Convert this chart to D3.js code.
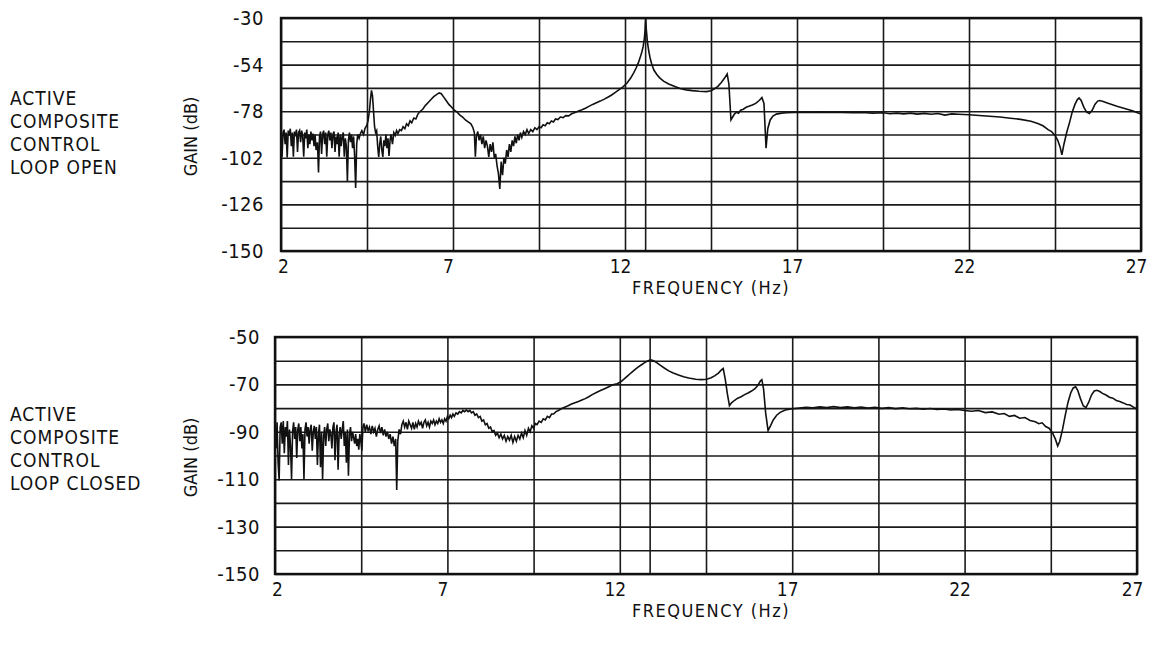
<!DOCTYPE html>
<html>
<head>
<meta charset="utf-8">
<script src="https://cdn.jsdelivr.net/npm/d3@7"></script>
<style>
  body { margin: 0; background: #fff; }
  text { font-family: "DejaVu Sans Condensed", "DejaVu Sans", sans-serif; font-stretch: condensed; fill: #111; }
</style>
</head>
<body>
<svg id="chart" width="1151" height="647"></svg>
<script>
// frequency axis (Hz)
const freqTicks = [2, 7, 12, 17, 22, 27];
const freqGrid = [2, 4.5, 7, 9.5, 12, 14.5, 17, 19.5, 22, 24.5, 27];

// gain axes (dB)
const openTicks = [-150, -126, -102, -78, -54, -30];
const openGrid = [-150, -138, -126, -114, -102, -90, -78, -66, -54, -42, -30];
const closedTicks = [-150, -130, -110, -90, -70, -50];
const closedGrid = [-150, -140, -130, -120, -110, -100, -90, -80, -70, -60, -50];

const openCaption = ["ACTIVE", "COMPOSITE", "CONTROL", "LOOP OPEN"];
const closedCaption = ["ACTIVE", "COMPOSITE", "CONTROL", "LOOP CLOSED"];

// resonance marker lines
const openMarker = 12.6;
const closedMarker = 12.88;

// [frequency Hz, gain dB], loop open
const openLoop = [
  [2.00,-90],[2.03,-101.5],[2.06,-89],[2.09,-87.5],[2.12,-95],[2.15,-89],[2.18,-101.8],[2.21,-88],
  [2.24,-90.5],[2.27,-87],[2.30,-96],[2.33,-89],[2.36,-101.5],[2.39,-88.5],[2.42,-91],[2.45,-87.5],
  [2.48,-99],[2.51,-89],[2.54,-88],[2.57,-94],[2.60,-88],[2.63,-90.5],[2.66,-101.5],[2.69,-89],
  [2.72,-92],[2.75,-87.5],[2.78,-97],[2.81,-90],[2.84,-95],[2.87,-88.5],[2.90,-93],[2.93,-89.5],
  [2.96,-96],[2.99,-90],[3.02,-98],[3.06,-94],[3.09,-109.5],[3.12,-91],[3.15,-88.5],[3.18,-100],
  [3.21,-90],[3.24,-88],[3.27,-95],[3.30,-89],[3.33,-101.5],[3.36,-90],[3.39,-88],[3.42,-93],
  [3.45,-89],[3.48,-97],[3.51,-90],[3.54,-88.5],[3.57,-99],[3.60,-91],[3.63,-95],[3.66,-89],
  [3.69,-101.5],[3.72,-90],[3.75,-96],[3.78,-91],[3.81,-89],[3.84,-101.5],[3.87,-92],[3.90,-96],
  [3.93,-114],[3.96,-93],[3.99,-89],[4.02,-94],[4.05,-90],[4.08,-97],[4.11,-91],[4.14,-101],
  [4.17,-117.5],[4.20,-95],[4.23,-90],[4.27,-92],[4.31,-89.5],[4.35,-88],[4.40,-90],[4.44,-87],
  [4.49,-85.5],[4.53,-83],[4.57,-78],[4.60,-72],[4.63,-67.3],[4.66,-70],[4.69,-78],[4.72,-86],
  [4.75,-89],[4.78,-88],[4.81,-96],[4.84,-101.5],[4.87,-95],[4.90,-91],[4.93,-98],[4.96,-101.5],
  [4.99,-93],[5.02,-96],[5.05,-90],[5.08,-97],[5.11,-92],[5.14,-101],[5.17,-93],[5.20,-90],
  [5.24,-95],[5.28,-89],[5.32,-90.5],[5.36,-88],[5.40,-89.5],[5.45,-87.5],[5.50,-88],[5.55,-86],
  [5.60,-87],[5.65,-84.5],[5.70,-85.5],[5.75,-83],[5.80,-84],[5.86,-81.5],[5.92,-82],[5.98,-79.5],
  [6.05,-78],[6.12,-77],[6.20,-75],[6.28,-73.5],[6.36,-72],[6.44,-70.5],[6.52,-69.5],[6.60,-68.6],
  [6.66,-69],[6.72,-70.5],[6.80,-72.5],[6.88,-74.5],[6.96,-76],[7.04,-77.5],[7.12,-78.5],[7.20,-80],
  [7.28,-81],[7.36,-82.5],[7.44,-83.5],[7.52,-84.5],[7.58,-86.5],[7.62,-89],[7.65,-101.5],[7.68,-91],
  [7.72,-88.5],[7.76,-93],[7.80,-90],[7.84,-95],[7.88,-91],[7.92,-97],[7.96,-93],[8.00,-96],
  [8.04,-101.5],[8.08,-95],[8.12,-99],[8.16,-94],[8.20,-102],[8.24,-100],[8.28,-106],[8.32,-110],
  [8.36,-118],[8.40,-104],[8.44,-111],[8.48,-102],[8.52,-105],[8.56,-98],[8.60,-101.5],[8.64,-95],
  [8.68,-99],[8.72,-93],[8.76,-96],[8.80,-91],[8.84,-94.5],[8.88,-90],[8.92,-93],[8.96,-89],
  [9.00,-91.5],[9.05,-88.5],[9.10,-90],[9.15,-87.5],[9.20,-89.5],[9.26,-87.5],[9.32,-88.5],[9.38,-86.5],
  [9.44,-87.5],[9.50,-86],[9.56,-86.5],[9.62,-85],[9.68,-85.5],[9.74,-84],[9.80,-84.5],[9.86,-83],
  [9.92,-83.5],[9.98,-82],[10.05,-82.3],[10.12,-81],[10.20,-81.3],[10.28,-80.3],[10.36,-80.4],[10.45,-79.3],
  [10.55,-78.7],[10.65,-77.9],[10.75,-77.3],[10.85,-76.5],[10.95,-75.5],[11.06,-74.5],[11.17,-73.6],
  [11.28,-72.8],[11.40,-71.8],[11.50,-70.8],[11.60,-69.8],[11.72,-68.3],[11.84,-66.8],[11.95,-65.3],
  [12.06,-63.5],[12.17,-60.8],[12.26,-58],[12.33,-55.5],[12.39,-53],[12.44,-50.4],[12.49,-47.5],
  [12.53,-44.5],[12.56,-41],[12.58,-37],[12.60,-30],[12.62,-36],[12.65,-42],[12.69,-47],[12.73,-50.6],
  [12.78,-54],[12.84,-56.8],[12.92,-59],[13.00,-60.7],[13.12,-62.5],[13.27,-64],[13.45,-65.3],
  [13.60,-66.3],[13.78,-67],[13.95,-67.4],[14.15,-67.7],[14.37,-67.9],[14.50,-67.5],[14.60,-66.5],
  [14.70,-65.2],[14.80,-63.2],[14.90,-60.8],[14.97,-58.8],[15.02,-64],[15.08,-82.5],[15.13,-81],
  [15.18,-79.5],[15.24,-78.5],[15.30,-79],[15.36,-77.5],[15.44,-77],[15.52,-76],[15.60,-75.5],
  [15.70,-74.8],[15.80,-74],[15.90,-72.5],[15.98,-71],[16.04,-74],[16.10,-97],[16.15,-87],
  [16.22,-82.5],[16.30,-80.5],[16.40,-79.5],[16.55,-79],[16.70,-78.8],[16.90,-78.6],[17.10,-78.5],
  [17.40,-78.6],[17.70,-78.5],[18.00,-78.7],[18.30,-78.6],[18.60,-78.8],[18.90,-78.7],[19.20,-79],
  [19.50,-78.8],[19.70,-79.3],[19.90,-79],[20.10,-79.4],[20.30,-79],[20.50,-79.5],[20.70,-79.1],
  [20.90,-79.6],[21.10,-79.2],[21.30,-80],[21.50,-79.4],[21.70,-79.6],[22.00,-79.8],[22.30,-80.2],
  [22.60,-80.6],[22.90,-81],[23.20,-81.6],[23.50,-82.2],[23.80,-83.2],[24.00,-84.3],[24.15,-85.5],
  [24.30,-87.5],[24.40,-88.5],[24.50,-90.5],[24.58,-93],[24.65,-96.5],[24.70,-100.5],[24.76,-95],
  [24.84,-89],[24.92,-84],[25.00,-78.5],[25.08,-74.5],[25.15,-72],[25.20,-71.2],[25.26,-72.5],
  [25.34,-76],[25.42,-78.5],[25.50,-79.2],[25.58,-77.5],[25.66,-74.5],[25.74,-72.8],[25.80,-72.5],
  [25.90,-73],[26.00,-73.6],[26.15,-74.5],[26.30,-75.4],[26.45,-76.2],[26.60,-77],[26.75,-77.8],
  [26.90,-78.8],[27.00,-79.5]
];

// [frequency Hz, gain dB], loop closed
const closedLoop = [
  [2.00,-87],[2.03,-97],[2.06,-86],[2.09,-103],[2.12,-110.5],[2.15,-88],[2.18,-86],[2.21,-95],
  [2.24,-85.5],[2.27,-99],[2.30,-88],[2.33,-92],[2.36,-85.5],[2.39,-104],[2.42,-89],[2.45,-96],
  [2.48,-110],[2.51,-90],[2.54,-86],[2.57,-93],[2.60,-88],[2.63,-101],[2.66,-89],[2.69,-86.5],
  [2.72,-94],[2.75,-88],[2.78,-97],[2.81,-91],[2.84,-110],[2.87,-89],[2.90,-86],[2.93,-92],
  [2.96,-88],[2.99,-95],[3.02,-89],[3.05,-87],[3.08,-98],[3.11,-90],[3.14,-87.5],[3.17,-93],
  [3.20,-88],[3.23,-104],[3.26,-91],[3.29,-87],[3.32,-105],[3.35,-90],[3.38,-110],[3.41,-92],
  [3.44,-88],[3.47,-96],[3.50,-89],[3.53,-86.5],[3.56,-94],[3.59,-89],[3.62,-91],[3.65,-97],
  [3.68,-88],[3.71,-86],[3.74,-102],[3.77,-90],[3.80,-87],[3.83,-106],[3.86,-91],[3.89,-88],
  [3.92,-93],[3.95,-89],[3.98,-85.5],[4.01,-96],[4.04,-90],[4.07,-103],[4.10,-89],[4.13,-108.5],
  [4.16,-91],[4.19,-88],[4.22,-94],[4.25,-90],[4.28,-92.5],[4.31,-95],[4.34,-91],[4.37,-96],
  [4.40,-93],[4.43,-97.5],[4.46,-91],[4.49,-94],[4.52,-98],[4.55,-88],[4.58,-86.5],[4.62,-90],
  [4.66,-87],[4.70,-89.5],[4.74,-88],[4.78,-91],[4.82,-87.5],[4.86,-90],[4.90,-88.5],[4.94,-92],
  [4.98,-89],[5.02,-87.5],[5.06,-90.5],[5.10,-88],[5.14,-91.5],[5.18,-89],[5.22,-92],[5.26,-90],
  [5.30,-93],[5.34,-91],[5.38,-95],[5.42,-92],[5.46,-96],[5.50,-93],[5.53,-114.5],[5.56,-94],
  [5.60,-89],[5.64,-91],[5.68,-87],[5.72,-85.5],[5.76,-88],[5.80,-86],[5.84,-89],[5.88,-85.5],
  [5.92,-87],[5.96,-88.5],[6.00,-86],[6.04,-89],[6.08,-86.5],[6.12,-88],[6.16,-85.5],[6.20,-87],
  [6.24,-86],[6.28,-88.5],[6.32,-86],[6.36,-85],[6.40,-87.5],[6.44,-86],[6.48,-88],[6.52,-85.5],
  [6.56,-86.5],[6.60,-85],[6.64,-87],[6.68,-85.5],[6.72,-86.5],[6.76,-84.5],[6.80,-86],[6.84,-85],
  [6.88,-86.5],[6.92,-84.5],[6.96,-85.5],[7.00,-83.5],[7.04,-84.5],[7.08,-83],[7.12,-84],[7.16,-82.5],
  [7.20,-83.5],[7.25,-82],[7.30,-82.5],[7.35,-81.5],[7.40,-82],[7.45,-81],[7.50,-81.5],[7.55,-80.8],
  [7.60,-81.5],[7.65,-81],[7.70,-82],[7.75,-81.5],[7.80,-83],[7.85,-82.5],[7.90,-84],[7.95,-83.5],
  [8.00,-85.5],[8.05,-85],[8.10,-87],[8.15,-86.5],[8.20,-88.5],[8.25,-88],[8.30,-90],[8.35,-89.5],
  [8.40,-91.5],[8.45,-90.5],[8.50,-92.5],[8.55,-91],[8.60,-93],[8.65,-91.5],[8.70,-94],[8.75,-92],
  [8.80,-93.5],[8.85,-91.5],[8.90,-94.5],[8.95,-92],[9.00,-94],[9.05,-91.5],[9.10,-93],[9.15,-90.5],
  [9.20,-92.5],[9.25,-89.5],[9.30,-91.5],[9.35,-88.5],[9.40,-90],[9.45,-87.5],[9.50,-88.5],[9.55,-86.5],
  [9.60,-87],[9.66,-85.5],[9.72,-86],[9.78,-84.5],[9.84,-85],[9.90,-83.5],[9.96,-84],[10.02,-82.5],
  [10.08,-82.5],[10.15,-81.5],[10.22,-81],[10.30,-80.3],[10.40,-79.6],[10.50,-79],[10.60,-78.3],
  [10.70,-77.7],[10.80,-77.2],[10.90,-76.6],[11.00,-76],[11.10,-75.2],[11.20,-74.3],[11.32,-73.4],
  [11.44,-72.6],[11.56,-71.8],[11.68,-71],[11.80,-70.2],[11.92,-69.7],[12.02,-69],[12.12,-67.8],
  [12.22,-66.5],[12.32,-65.2],[12.42,-64],[12.52,-62.8],[12.62,-61.8],[12.72,-60.8],[12.82,-60],
  [12.90,-59.6],[12.98,-60],[13.07,-60.8],[13.18,-62],[13.30,-63.2],[13.42,-64.3],[13.55,-65.2],
  [13.70,-66],[13.85,-66.8],[14.00,-67.3],[14.20,-67.8],[14.37,-68],[14.52,-67.8],[14.65,-67.2],
  [14.76,-66.3],[14.86,-65.2],[14.94,-64],[15.00,-63.3],[15.06,-68],[15.12,-74],[15.18,-79],
  [15.24,-77.8],[15.32,-76.8],[15.42,-75.8],[15.52,-75.2],[15.62,-74.3],[15.72,-73.6],[15.82,-72.8],
  [15.92,-71.8],[16.00,-70.5],[16.08,-68.5],[16.12,-68],[16.17,-72],[16.23,-82],[16.30,-89.5],
  [16.37,-87.5],[16.45,-85],[16.55,-83],[16.65,-81.8],[16.80,-80.8],[17.00,-80.3],[17.20,-80],
  [17.40,-79.7],[17.60,-79.9],[17.80,-79.5],[18.00,-79.8],[18.20,-79.4],[18.40,-79.8],[18.60,-79.5],
  [18.80,-79.9],[19.00,-79.6],[19.20,-80],[19.40,-79.7],[19.60,-80.1],[19.80,-79.8],[20.00,-80.2],
  [20.20,-79.9],[20.40,-80.3],[20.60,-80.1],[20.80,-80.5],[21.00,-80.2],[21.20,-80.6],[21.40,-80.4],
  [21.60,-80.8],[21.80,-80.6],[22.00,-81],[22.20,-81.3],[22.40,-81],[22.60,-81.9],[22.80,-81.6],
  [23.00,-82.6],[23.15,-82.3],[23.30,-83.5],[23.45,-83.1],[23.60,-84.3],[23.75,-84],[23.90,-85.2],
  [24.05,-85.8],[24.15,-86.6],[24.25,-86.2],[24.35,-87.8],[24.45,-88.5],[24.55,-90.5],[24.63,-93],
  [24.70,-96],[24.76,-94],[24.84,-89],[24.92,-83],[25.00,-77.5],[25.08,-73.5],[25.15,-71.5],
  [25.22,-71],[25.28,-72.5],[25.36,-76],[25.44,-79],[25.52,-79.8],[25.60,-77.5],[25.68,-74.5],
  [25.76,-72.8],[25.84,-72.5],[25.92,-73],[26.00,-73.8],[26.10,-74.5],[26.20,-75.4],[26.30,-75.8],
  [26.40,-76.8],[26.50,-77.2],[26.60,-77.8],[26.70,-78.5],[26.80,-78.7],[26.90,-79.6],[27.00,-80.5]
];

const svg = d3.select("#chart");

const panels = [
  { id: "open", data: openLoop, marker: openMarker, ticks: openTicks, grid: openGrid,
    caption: openCaption, left: 281, right: 1141, top: 18, bottom: 251,
    captionY: 105, yPad: 17, titleShift: 0 },
  { id: "closed", data: closedLoop, marker: closedMarker, ticks: closedTicks, grid: closedGrid,
    caption: closedCaption, left: 275, right: 1137, top: 337, bottom: 574,
    captionY: 421, yPad: 15, titleShift: 5 }
];

panels.forEach(drawPanel);

function drawPanel(p) {
  const x = d3.scaleLinear().domain([2, 27]).range([p.left, p.right]);
  const y = d3.scaleLinear().domain([d3.min(p.grid), d3.max(p.grid)]).range([p.bottom, p.top]);
  const g = svg.append("g").attr("class", "panel-" + p.id);

  // vertical grid
  const vg = g.append("g")
    .attr("transform", `translate(0,${p.bottom})`)
    .call(d3.axisBottom(x).tickValues(freqGrid).tickSize(-(p.bottom - p.top)).tickFormat(""));
  vg.select(".domain").remove();
  vg.selectAll("line").attr("stroke", "#1a1a1a").attr("stroke-width", 1.6);

  // horizontal grid
  const hg = g.append("g")
    .attr("transform", `translate(${p.left},0)`)
    .call(d3.axisLeft(y).tickValues(p.grid).tickSize(-(p.right - p.left)).tickFormat(""));
  hg.select(".domain").remove();
  hg.selectAll("line").attr("stroke", "#1a1a1a").attr("stroke-width", 1.6);

  // resonance marker
  g.append("line")
    .attr("x1", x(p.marker)).attr("x2", x(p.marker))
    .attr("y1", p.top).attr("y2", p.bottom)
    .attr("stroke", "#1a1a1a").attr("stroke-width", 1.6);

  // frame
  g.append("rect")
    .attr("x", p.left).attr("y", p.top)
    .attr("width", p.right - p.left).attr("height", p.bottom - p.top)
    .attr("fill", "none").attr("stroke", "#111").attr("stroke-width", 2.4);

  // trace
  g.append("clipPath").attr("id", "clip-" + p.id)
    .append("rect")
    .attr("x", p.left).attr("y", p.top)
    .attr("width", p.right - p.left).attr("height", p.bottom - p.top);

  const line = d3.line()
    .x(d => x(d[0]))
    .y(d => y(d[1]));

  g.append("path")
    .datum(p.data)
    .attr("clip-path", `url(#clip-${p.id})`)
    .attr("fill", "none")
    .attr("stroke", "#111")
    .attr("stroke-width", 1.6)
    .attr("d", line);

  // tick labels
  const xa = g.append("g")
    .attr("transform", `translate(0,${p.bottom})`)
    .call(d3.axisBottom(x).tickValues(freqTicks).tickSize(0).tickPadding(9));
  xa.select(".domain").remove();
  xa.selectAll("text")
    .attr("fill", "#111")
    .attr("dx", d => d === 2 ? 2 : -5)
    .style("font-size", "19px");

  const ya = g.append("g")
    .attr("transform", `translate(${p.left},0)`)
    .call(d3.axisLeft(y).tickValues(p.ticks).tickSize(0).tickPadding(p.yPad)
      .tickFormat(d => "-" + Math.abs(d)));
  ya.select(".domain").remove();
  ya.selectAll("text")
    .attr("fill", "#111")
    .style("font-size", "20px")
    .style("letter-spacing", "0.5px");

  // axis titles
  g.append("text")
    .attr("x", (p.left + p.right) / 2 + p.titleShift)
    .attr("y", p.bottom + 43)
    .attr("text-anchor", "middle")
    .style("font-size", "18px")
    .style("letter-spacing", "1.5px")
    .text("FREQUENCY (Hz)");

  g.append("text")
    .attr("transform", `translate(197,${(p.top + p.bottom) / 2 + 2}) rotate(-90)`)
    .attr("text-anchor", "middle")
    .style("font-size", "18px")
    .text("GAIN (dB)");

  // side caption
  const cap = g.append("text")
    .attr("x", 10)
    .attr("y", p.captionY)
    .style("font-size", "19px")
    .style("letter-spacing", "1px");
  cap.selectAll("tspan")
    .data(p.caption)
    .join("tspan")
    .attr("x", 10)
    .attr("dy", (d, i) => i === 0 ? 0 : 23)
    .text(d => d);
}
</script>
</body>
</html>
